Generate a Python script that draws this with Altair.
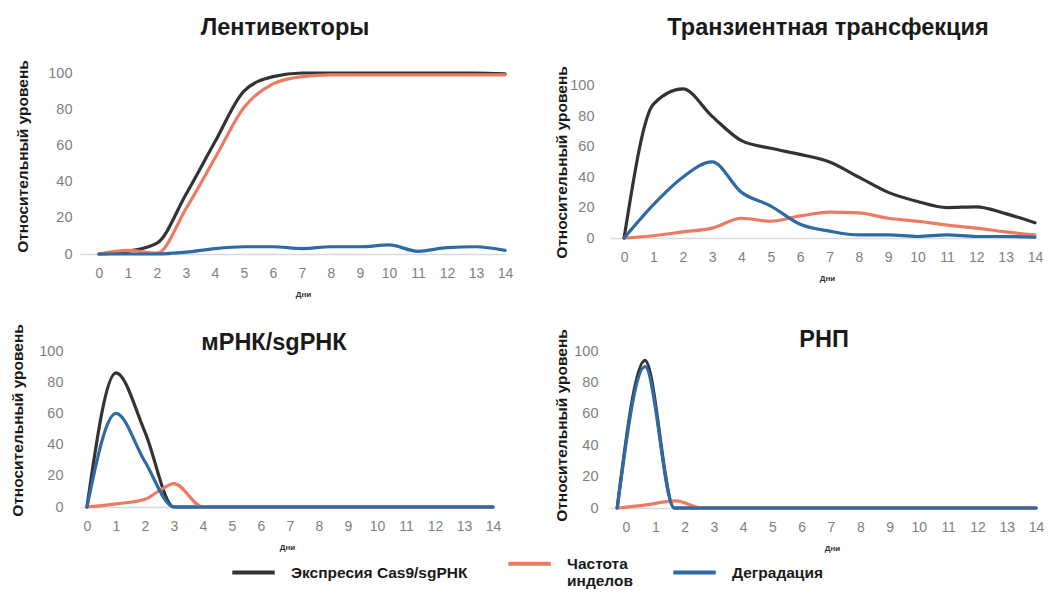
import altair as alt
import pandas as pd

# ---------------- data ----------------
SERIES = ["Экспресия Cas9/sgРНК", "Частота инделов", "Деградация"]
COLORS = ["#333333", "#ec7b62", "#2e6aa3"]

DAYS = list(range(15))
Y_TICKS = [0, 20, 40, 60, 80, 100]

# Лентивекторы
LENTI_EXPR = [0, 1.5, 6, 33, 62, 90, 98, 100, 100, 100, 100, 100, 100, 100, 99.5]
LENTI_INDEL = [0, 2, 0.5, 25, 53, 81, 94, 98, 99, 99, 99, 99, 99, 99, 99]
LENTI_DEGR = [0, 0, 0, 1, 3, 4, 4, 3, 4, 4, 5, 1.5, 3.5, 4, 2]

# Транзиентная трансфекция
TRANS_EXPR = [0, 88, 98, 80, 64, 59, 55, 50, 40, 30, 24, 20, 20.5, 16, 10]
TRANS_INDEL = [0, 1.5, 4, 6.5, 13, 11, 14.5, 17, 16.5, 13, 11, 8.5, 6.5, 4, 2]
TRANS_DEGR = [0, 22, 40, 50, 30, 21, 9, 4.5, 2, 2, 1, 2, 1, 1, 0.5]

# мРНК/sgРНК
MRNA_EXPR = [0, 86, 48, 0, 0, 0, 0, 0, 0, 0, 0, 0, 0, 0, 0]
MRNA_DEGR = [0, 60, 29, 0, 0, 0, 0, 0, 0, 0, 0, 0, 0, 0, 0]
MRNA_INDEL_DAYS = [0, 1, 2, 2.5, 3, 4, 5, 6, 7, 8, 9, 10, 11, 12, 13, 14]
MRNA_INDEL = [0, 2, 5, 10.5, 15, 0, 0, 0, 0, 0, 0, 0, 0, 0, 0, 0]

# РНП
RNP_DAYS = [-0.3, 0.65, 1.65, 14]
RNP_EXPR = [0, 94, 0, 0]
RNP_DEGR = [0, 90, 0, 0]
RNP_INDEL_DAYS = [-0.3, 0.5, 1.7, 2.6, 14]
RNP_INDEL = [0, 1.5, 4.5, 0, 0]

rows = []


def add(panel, series, xs, ys):
    for x, y in zip(xs, ys):
        rows.append({"panel": panel, "series": series, "day": x, "value": y})


add("lenti", SERIES[0], DAYS, LENTI_EXPR)
add("lenti", SERIES[1], DAYS, LENTI_INDEL)
add("lenti", SERIES[2], DAYS, LENTI_DEGR)
add("trans", SERIES[0], DAYS, TRANS_EXPR)
add("trans", SERIES[1], DAYS, TRANS_INDEL)
add("trans", SERIES[2], DAYS, TRANS_DEGR)
add("mrna", SERIES[0], DAYS, MRNA_EXPR)
add("mrna", SERIES[1], MRNA_INDEL_DAYS, MRNA_INDEL)
add("mrna", SERIES[2], DAYS, MRNA_DEGR)
add("rnp", SERIES[0], RNP_DAYS, RNP_EXPR)
add("rnp", SERIES[1], RNP_INDEL_DAYS, RNP_INDEL)
add("rnp", SERIES[2], RNP_DAYS, RNP_DEGR)

df = pd.DataFrame(rows)

FONT = "Liberation Sans"

LEG = alt.Legend(
    title=None, orient="none", legendX=150, legendY=467, direction="horizontal",
    symbolType="stroke", symbolSize=1800, symbolStrokeWidth=4,
    labelFont=FONT, labelFontSize=15.5, labelFontWeight="bold", labelColor="#1a1a1a",
    labelOffset=14, columnPadding=32, padding=0, labelLimit=400,
    labelExpr="datum.label == 'Частота инделов' ? ['Частота', 'инделов'] : datum.label",
)


def panel(key, title, xdom, ydom, w, h, tdx, toff, tsize, ylp, ytx, yty, xtx):
    base = alt.Chart(df).transform_filter(alt.datum.panel == key)
    layers = []
    for s in SERIES:
        layers.append(
            base.transform_filter(alt.datum.series == s)
            .mark_line(interpolate="monotone", strokeWidth=3.2, strokeCap="round", clip=False)
            .encode(
                x=alt.X(
                    "day:Q",
                    scale=alt.Scale(domain=xdom, nice=False, zero=False),
                    axis=alt.Axis(
                        values=DAYS, title="Дни", labelPadding=12, labelFlush=False,
                        labelOverlap=False, labelFont=FONT, labelFontSize=14, labelColor="#7f7f7f",
                        ticks=False, grid=False, domainColor="#d9d9d9", domainWidth=1.5,
                        titleFont=FONT, titleFontSize=8, titleFontWeight="bold", titleColor="#333333",
                        titleX=xtx, titleY=40, titleAlign="center", titleBaseline="middle",
                    ),
                ),
                y=alt.Y(
                    "value:Q",
                    scale=alt.Scale(domain=ydom, nice=False, zero=True),
                    axis=alt.Axis(
                        values=Y_TICKS, title="Относительный уровень", labelPadding=ylp,
                        labelFlush=False, labelOverlap=False, labelFont=FONT, labelFontSize=14.5,
                        labelColor="#7f7f7f", ticks=False, grid=False, domain=False,
                        titleFont=FONT, titleFontSize=15.5, titleFontWeight="bold", titleColor="#1a1a1a",
                        titleX=ytx, titleY=yty, titleAlign="center", titleBaseline="middle",
                    ),
                ),
                color=alt.Color("series:N", scale=alt.Scale(domain=SERIES, range=COLORS), legend=LEG),
            )
        )
    return alt.layer(*layers).properties(
        width=w,
        height=h,
        title=alt.TitleParams(
            title, anchor="middle", frame="group", dx=tdx, offset=toff, baseline="alphabetic",
            fontSize=tsize, fontWeight="bold", color="#1a1a1a", font=FONT,
        ),
    )


tl = panel("lenti", "Лентивекторы", [-0.655, 14], [0, 100], 425, 181, -7.5, 1, 23.5, 8, -58, 83, 223)
tr = panel("trans", "Транзиентная трансфекция", [-0.48, 14], [0, 108.5], 425, 165, 5.5, 7, 23.5, 16, -49, 89, 217)
bl = panel("mrna", "мРНК/sgРНК", [-0.24, 14], [0, 100], 413, 156, -12.5, -50, 23.5, 17, -62.5, 69, 207)
br = panel("rnp", "РНП", [-0.546, 14], [0, 100], 426, 157, 1, -42, 23.5, 12, -49, 74, 222)

row0 = alt.hconcat(tl, tr, spacing=40)
row1 = alt.hconcat(bl, br, spacing=52)

chart = (
    alt.vconcat(row0, row1, spacing=25)
    .properties(padding={"left": 2, "top": 8, "right": 0, "bottom": 0}, background="white")
    .configure_view(stroke=None)
)

chart.save("out.html", embed_options={"renderer": "svg", "actions": False})
